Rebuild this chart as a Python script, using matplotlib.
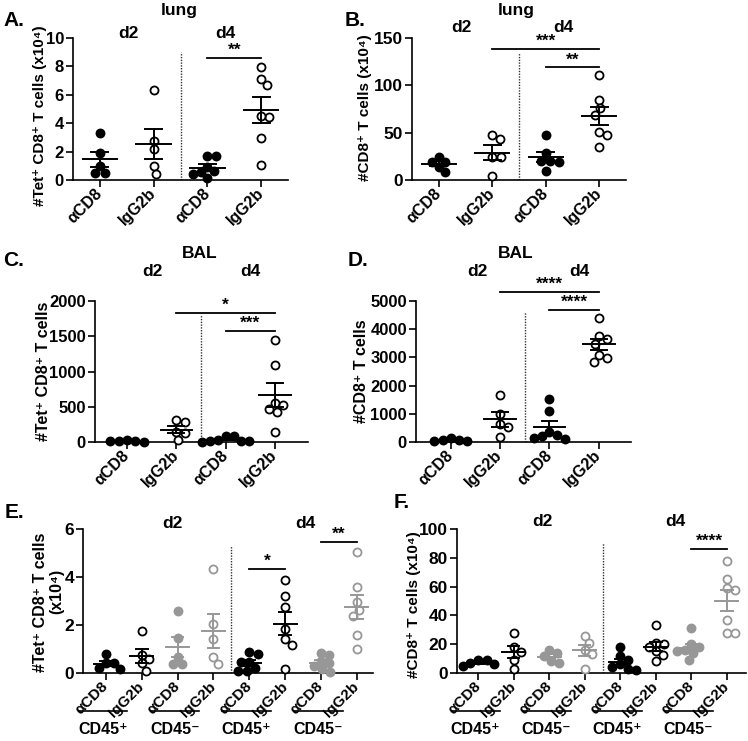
import numpy as np
import matplotlib
matplotlib.use('Agg')
import matplotlib.pyplot as plt
from matplotlib.transforms import blended_transform_factory

plt.rcParams['font.family'] = ['Liberation Sans', 'DejaVu Sans']
plt.rcParams['font.weight'] = 'bold'
plt.rcParams['axes.linewidth'] = 1.2

# ---------------- data ----------------
labels4 = ['αCD8', 'IgG2b', 'αCD8', 'IgG2b']
labels8 = ['αCD8', 'IgG2b'] * 4
cd45_labels = ['CD45⁺', 'CD45⁻', 'CD45⁺', 'CD45⁻']

# A: lung, Tet+ CD8+ (x10^4)
A_d2_aCD8 = [3.33, 1.88, 0.99, 0.52, 0.52]
A_d2_IgG = [6.34, 2.75, 2.16, 0.99, 0.42]
A_d4_aCD8 = [1.72, 1.72, 0.95, 0.55, 0.45, 0.15, 0.60]
A_d4_IgG = [7.93, 7.11, 6.69, 4.41, 4.50, 2.93, 1.08]

# B: lung, CD8+ (x10^4)
B_d2_aCD8 = [24.7, 19.4, 19.4, 8.1, 14.1]
B_d2_IgG = [43.4, 47.6, 24.0, 24.0, 4.6]
B_d4_aCD8 = [47.6, 28.0, 20.5, 20.5, 9.9, 19.0]
B_d4_IgG = [110.5, 84.7, 75.9, 68.8, 50.5, 47.6, 34.6]

# C: BAL, Tet+ CD8+
C_d2_aCD8 = [30, 15, 10, 5, 20]
C_d2_IgG = [307, 284, 128, 140, 24]
C_d4_aCD8 = [90, 85, 30, 15, 10, 5, 20]
C_d4_IgG = [1440, 1095, 560, 525, 470, 420, 140]

# D: BAL, CD8+
D_d2_aCD8 = [150, 80, 50, 30, 60]
D_d2_IgG = [1678, 981, 626, 532, 177]
D_d4_aCD8 = [1540, 1090, 350, 250, 200, 150, 100]
D_d4_IgG = [4409, 3664, 3747, 3487, 3073, 2991, 2837]

# E: Tet+ CD8+ (x10^4) by CD45 staining
E_d2_pos_aCD8 = [0.80, 0.40, 0.40, 0.20, 0.15]
E_d2_pos_IgG = [1.76, 0.75, 0.57, 0.40, 0.10]
E_d2_neg_aCD8 = [2.58, 1.44, 0.68, 0.38, 0.38]
E_d2_neg_IgG = [4.33, 2.03, 1.40, 0.68, 0.38]
E_d4_pos_aCD8 = [0.86, 0.79, 0.47, 0.45, 0.20, 0.10, 0.10]
E_d4_pos_IgG = [3.88, 3.21, 2.76, 1.82, 1.40, 1.17, 0.17]
E_d4_neg_aCD8 = [0.85, 0.75, 0.50, 0.40, 0.30, 0.15, 0.05]
E_d4_neg_IgG = [5.03, 3.60, 2.97, 2.63, 2.38, 1.58, 0.99]

# F: CD8+ (x10^4) by CD45 staining
F_d2_pos_aCD8 = [9, 9, 7, 6, 5]
F_d2_pos_IgG = [28, 18, 14.5, 9, 2.5]
F_d2_neg_aCD8 = [16, 14, 11.5, 8, 7]
F_d2_neg_IgG = [26, 21, 16, 13, 3]
F_d4_pos_aCD8 = [18, 12, 9, 6, 4, 3, 2]
F_d4_pos_IgG = [33, 21, 20, 18, 15, 12.5, 8]
F_d4_neg_aCD8 = [31, 20, 18, 16, 15, 14, 9]
F_d4_neg_IgG = [78, 65.3, 58.8, 57.6, 36.8, 27.5, 27.5]

# significance brackets: (group from, group to, y, stars)
A_sig = [(2, 3, 8.6, '**')]
B_sig = [(1, 3, 138.7, '***'), (2, 3, 119, '**')]
C_sig = [(1, 3, 1830, '*'), (2, 3, 1574, '***')]
D_sig = [(1, 3, 5319, '****'), (2, 3, 4693, '****')]
E_sig = [(4, 5, 4.33, '*'), (6, 7, 5.46, '**')]
F_sig = [(6, 7, 86.1, '****')]

# ---------------- style ----------------
BLACK = '#000000'
GREY = '#979797'
style4 = [(BLACK, True), (BLACK, False), (BLACK, True), (BLACK, False)]
style8 = [(BLACK, True), (BLACK, False), (GREY, True), (GREY, False)] * 2

W, H = 748, 741
fig = plt.figure(figsize=(W / 100, H / 100), dpi=100)


def add_ax(l, r, t, b):
    return fig.add_axes([l / W, 1 - b / H, (r - l) / W, (b - t) / H])


def ftxt(x, y, s, size=12, **kw):
    fig.text(x / W, 1 - y / H, s, fontsize=size, fontweight='bold',
             ha=kw.pop('ha', 'center'), va=kw.pop('va', 'center'), **kw)


def swarm(ax, xc, vals, dpx):
    """simple beeswarm in pixel space, returns x data coords"""
    pts = ax.transData.transform(np.column_stack([np.full(len(vals), xc), vals]))
    x0 = pts[0, 0]
    ys = pts[:, 1]
    order = np.argsort(-ys)
    placed = []
    xs = np.zeros(len(vals))
    for idx in order:
        y = ys[idx]
        cands = [0.0]
        ivals = []
        for (px, py) in placed:
            dy = abs(py - y)
            if dy < dpx:
                h = np.sqrt(dpx ** 2 - dy ** 2)
                ivals.append((px - h, px + h))
                cands += [px - h, px + h]
        best = 0.0
        for c in sorted(cands, key=lambda v: (abs(v), -v)):
            if all(not (a + 1e-6 < c < b - 1e-6) for a, b in ivals):
                best = c
                break
        placed.append((best, y))
        xs[idx] = best
    disp = np.column_stack([x0 + xs, ys])
    return ax.transData.inverted().transform(disp)[:, 0]


def panel(box, xlim, ylim, yticks, groups, styles, ticklabels, sig, dotted_top,
          tick_fs=12.5, xtick_fs=11.5, dpx=8.4, hw=0.32, cw=0.16, ms=5.8):
    ax = add_ax(*box)
    ax.set_xlim(*xlim)
    ax.set_ylim(*ylim)
    for s in ['top', 'right']:
        ax.spines[s].set_visible(False)
    ax.set_yticks(yticks)
    ax.set_yticklabels([str(v) for v in yticks], fontsize=tick_fs, fontweight='bold')
    ax.set_xticks(range(len(groups)))
    ax.set_xticklabels(ticklabels, rotation=45, ha='right', va='center',
                       rotation_mode='anchor', fontsize=xtick_fs, fontweight='bold')
    ax.tick_params(axis='both', direction='out', length=5, width=1.2, pad=1.5)
    ax.tick_params(axis='x', pad=3)
    for i, (vals, (col, filled)) in enumerate(zip(groups, styles)):
        v = np.array(vals, dtype=float)
        xs = swarm(ax, i, v, dpx)
        ax.plot(xs, v, 'o', ms=ms, mew=1.3, mec=col,
                mfc=col if filled else 'white', clip_on=False, zorder=3)
        m = v.mean()
        se = v.std(ddof=1) / np.sqrt(len(v))
        ax.plot([i - hw, i + hw], [m, m], color=col, lw=1.4, zorder=4, clip_on=False)
        ax.plot([i, i], [m - se, m + se], color=col, lw=1.4, zorder=4)
        ax.plot([i - cw, i + cw], [m + se, m + se], color=col, lw=1.4, zorder=4)
        ax.plot([i - cw, i + cw], [m - se, m - se], color=col, lw=1.4, zorder=4)
    half = len(groups) / 2 - 0.5
    ax.plot([half, half], [0, dotted_top], ls=(0, (1, 1)), color='#333333', lw=1.0)
    for g0, g1, y, stars in sig:
        ax.plot([g0, g1], [y, y], color='black', lw=1.3, clip_on=False)
        ax.text((g0 + g1) / 2, y, stars, ha='center', va='bottom', fontsize=12.5,
                fontweight='bold', clip_on=False)
    return ax


# ---- A ----
panel((73, 288, 38, 180), (-0.5, 3.5), (0, 10), [0, 2, 4, 6, 8, 10],
      [A_d2_aCD8, A_d2_IgG, A_d4_aCD8, A_d4_IgG], style4, labels4, A_sig, 9.0,
      tick_fs=12)
ftxt(14, 20, 'A.', 15)
ftxt(179, 10, 'lung', 12.5)
ftxt(128, 33, 'd2', 12.5)
ftxt(225, 33, 'd4', 12.5)
ftxt(40, 116, '#Tet⁺ CD8⁺ T cells (x10⁴)', 11, rotation=90)

# ---- B ----
panel((412, 626, 38, 180), (-0.5, 3.5), (0, 150), [0, 50, 100, 150],
      [B_d2_aCD8, B_d2_IgG, B_d4_aCD8, B_d4_IgG], style4, labels4, B_sig, 134)
ftxt(355, 20, 'B.', 15)
ftxt(516, 10, 'lung', 12.5)
ftxt(461, 28, 'd2', 12.5)
ftxt(563, 28, 'd4', 12.5)
ftxt(365, 108, '#CD8⁺ T cells (x10⁴)', 11, rotation=90)

# ---- C ----
panel((95, 308, 301, 442), (-0.65, 3.67), (0, 2000), [0, 500, 1000, 1500, 2000],
      [C_d2_aCD8, C_d2_IgG, C_d4_aCD8, C_d4_IgG], style4, labels4, C_sig, 1800,
      tick_fs=12)
ftxt(14, 260, 'C.', 15)
ftxt(200, 253, 'BAL', 12.5)
ftxt(152, 272, 'd2', 12.5)
ftxt(250, 272, 'd4', 12.5)
ftxt(44, 371, '#Tet⁺ CD8⁺ T cells', 11.5, rotation=90)

# ---- D ----
panel((416, 631, 301, 442), (-0.7, 3.65), (0, 5000), [0, 1000, 2000, 3000, 4000, 5000],
      [D_d2_aCD8, D_d2_IgG, D_d4_aCD8, D_d4_IgG], style4, labels4, D_sig, 4610,
      tick_fs=12)
ftxt(358, 260, 'D.', 15)
ftxt(516, 254, 'BAL', 12.5)
ftxt(477, 272, 'd2', 12.5)
ftxt(579, 272, 'd4', 12.5)
ftxt(362, 371, '#CD8⁺ T cells', 11.5, rotation=90)

# ---- E ----
axE = panel((83, 373, 529, 673), (-0.64, 7.45), (0, 6), [0, 2, 4, 6],
            [E_d2_pos_aCD8, E_d2_pos_IgG, E_d2_neg_aCD8, E_d2_neg_IgG,
             E_d4_pos_aCD8, E_d4_pos_IgG, E_d4_neg_aCD8, E_d4_neg_IgG],
            style8, labels8, E_sig, 5.3, xtick_fs=11)
ftxt(14, 512, 'E.', 15)
ftxt(172, 523, 'd2', 12.5)
ftxt(305, 523, 'd4', 12.5)
ftxt(41, 602, '#Tet⁺ CD8⁺ T cells', 11.5, rotation=90)
ftxt(57, 591, '(x10⁴)', 11.5, rotation=90)

# ---- F ----
axF = panel((457, 746, 529, 673), (-0.6, 7.54), (0, 100), [0, 20, 40, 60, 80, 100],
            [F_d2_pos_aCD8, F_d2_pos_IgG, F_d2_neg_aCD8, F_d2_neg_IgG,
             F_d4_pos_aCD8, F_d4_pos_IgG, F_d4_neg_aCD8, F_d4_neg_IgG],
            style8, labels8, F_sig, 90.5, xtick_fs=11)
ftxt(402, 503, 'F.', 15)
ftxt(542, 522, 'd2', 12.5)
ftxt(675, 522, 'd4', 12.5)
ftxt(414, 605, '#CD8⁺ T cells (x10⁴)', 11, rotation=90)

# CD45 group underlines
for ax in (axE, axF):
    tr = blended_transform_factory(ax.transData, fig.transFigure)
    for k, lab in enumerate(cd45_labels):
        i = 2 * k
        ax.plot([i - 0.75, i + 0.6], [1 - 711 / H] * 2, color='black', lw=1.2,
                transform=tr, clip_on=False)
        ax.text(i - 0.08, 1 - 729 / H, lab, transform=tr, ha='center', va='center',
                fontsize=11.5, fontweight='bold')

fig.savefig('out.png', dpi=100)
